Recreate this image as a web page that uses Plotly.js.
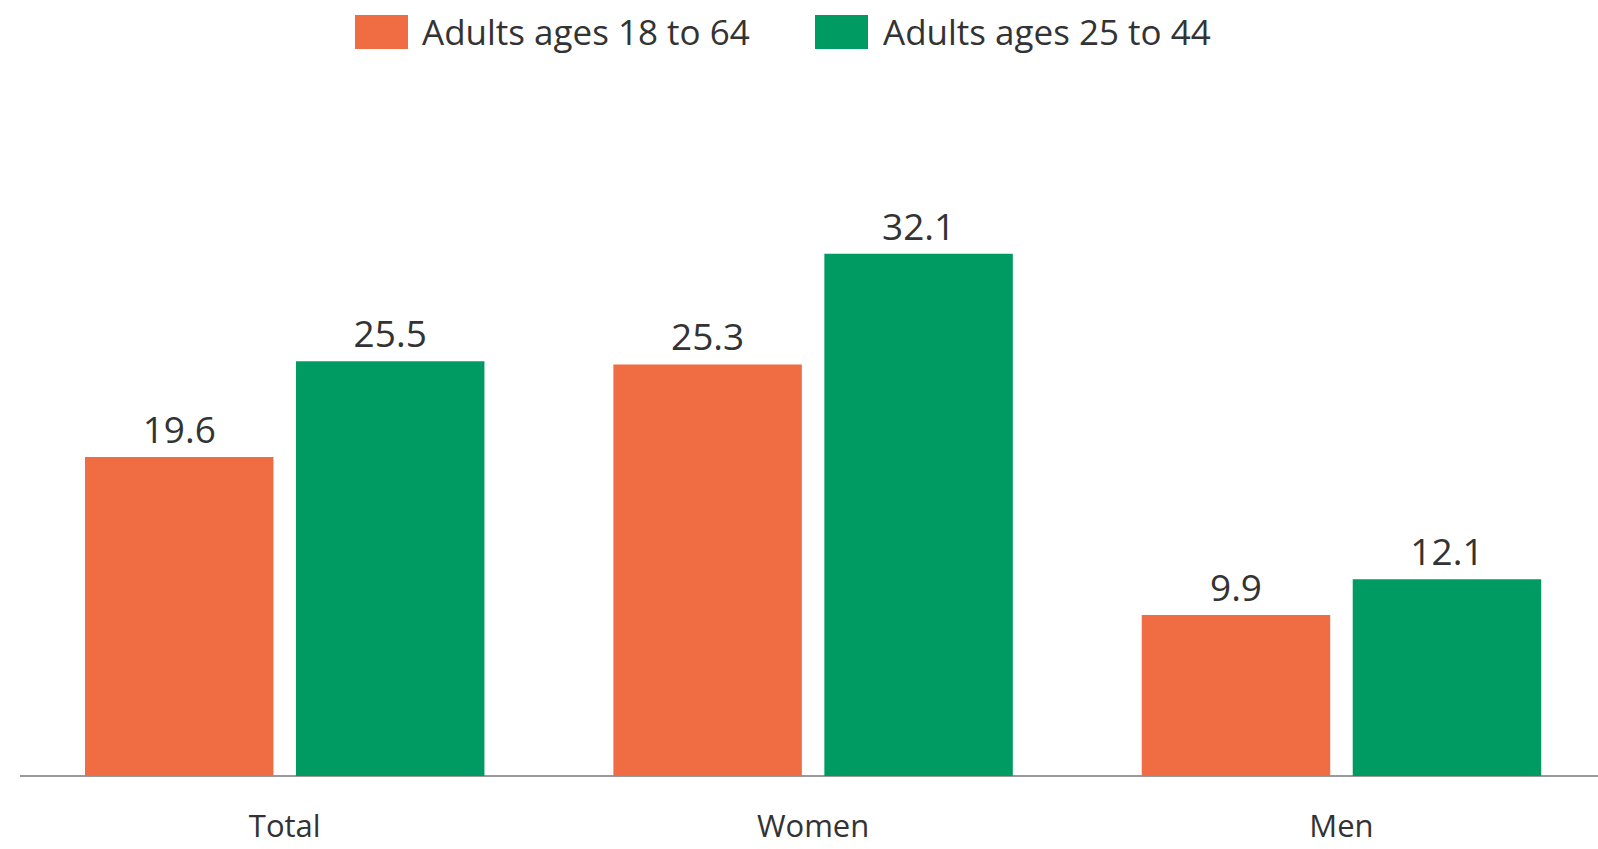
<!DOCTYPE html>
<html>
<head>
<meta charset="utf-8">
<script src="https://cdn.plot.ly/plotly-3.0.1.min.js"></script>
<style>
html,body{margin:0;padding:0;background:#fff;}
#chart{width:1598px;height:849px;}
</style>
</head>
<body>
<div id="chart"></div>
<script>
// ---- data ----
const categories = ["Total", "Women", "Men"];
const seriesNames = ["Adults ages 18 to 64", "Adults ages 25 to 44"];
const values1864 = [19.6, 25.3, 9.9];
const values2544 = [25.5, 32.1, 12.1];
const seriesColors = ["#F06D44", "#009B63"];

// ---- layout geometry ----
const W = 1598, H = 849;
const M = {l: 20, r: 0, t: 100, b: 73};
const plotW = W - M.l - M.r;
const plotH = H - M.t - M.b;
const px2paperX = px => (px - M.l) / plotW;
const px2paperY = py => 1 - (py - M.t) / plotH;

const fontFam = "'Open Sans', 'DejaVu Sans', sans-serif";
const textColor = "#333333";

const traces = [values1864, values2544].map((vals, i) => ({
  type: "bar",
  name: seriesNames[i],
  x: categories,
  y: vals,
  marker: {color: seriesColors[i]},
  text: vals.map(v => v.toFixed(1)),
  textposition: "outside",
  textfont: {family: fontFam, size: 37, color: textColor},
  cliponaxis: false,
  hoverinfo: "x+y+name",
  showlegend: false
}));

// custom legend (large swatches as in reference)
const legendItems = [
  {sx0: 355, sx1: 408, tx: 420},
  {sx0: 815, sx1: 868, tx: 881}
];
const shapes = [];
const annotations = [];
legendItems.forEach((it, i) => {
  shapes.push({
    type: "rect", xref: "paper", yref: "paper",
    x0: px2paperX(it.sx0), x1: px2paperX(it.sx1),
    y0: px2paperY(49), y1: px2paperY(15),
    fillcolor: seriesColors[i], line: {width: 0}
  });
  annotations.push({
    xref: "paper", yref: "paper",
    x: px2paperX(it.tx), y: px2paperY(32),
    xanchor: "left", yanchor: "middle",
    text: seriesNames[i], showarrow: false,
    font: {family: fontFam, size: 35, color: textColor}
  });
});

const layout = {
  width: W, height: H,
  margin: M,
  paper_bgcolor: "#ffffff",
  plot_bgcolor: "#ffffff",
  barmode: "group",
  bargap: 0.2014,
  bargroupgap: 0.1067,
  font: {family: fontFam, color: textColor},
  xaxis: {
    type: "category",
    range: [-0.501, 2.4855],
    showgrid: false,
    zeroline: false,
    showline: false,
    ticks: "",
    ticklabelstandoff: 29,
    tickfont: {family: fontFam, size: 31, color: textColor},
    fixedrange: true
  },
  yaxis: {
    range: [0, 41.55],
    showgrid: false,
    zeroline: true,
    zerolinecolor: "#9a9a9a",
    zerolinewidth: 2,
    showticklabels: false,
    ticks: "",
    showline: false,
    fixedrange: true
  },
  shapes: shapes,
  annotations: annotations,
  showlegend: false
};

Plotly.newPlot("chart", traces, layout, {displayModeBar: false, staticPlot: true});
</script>
</body>
</html>
